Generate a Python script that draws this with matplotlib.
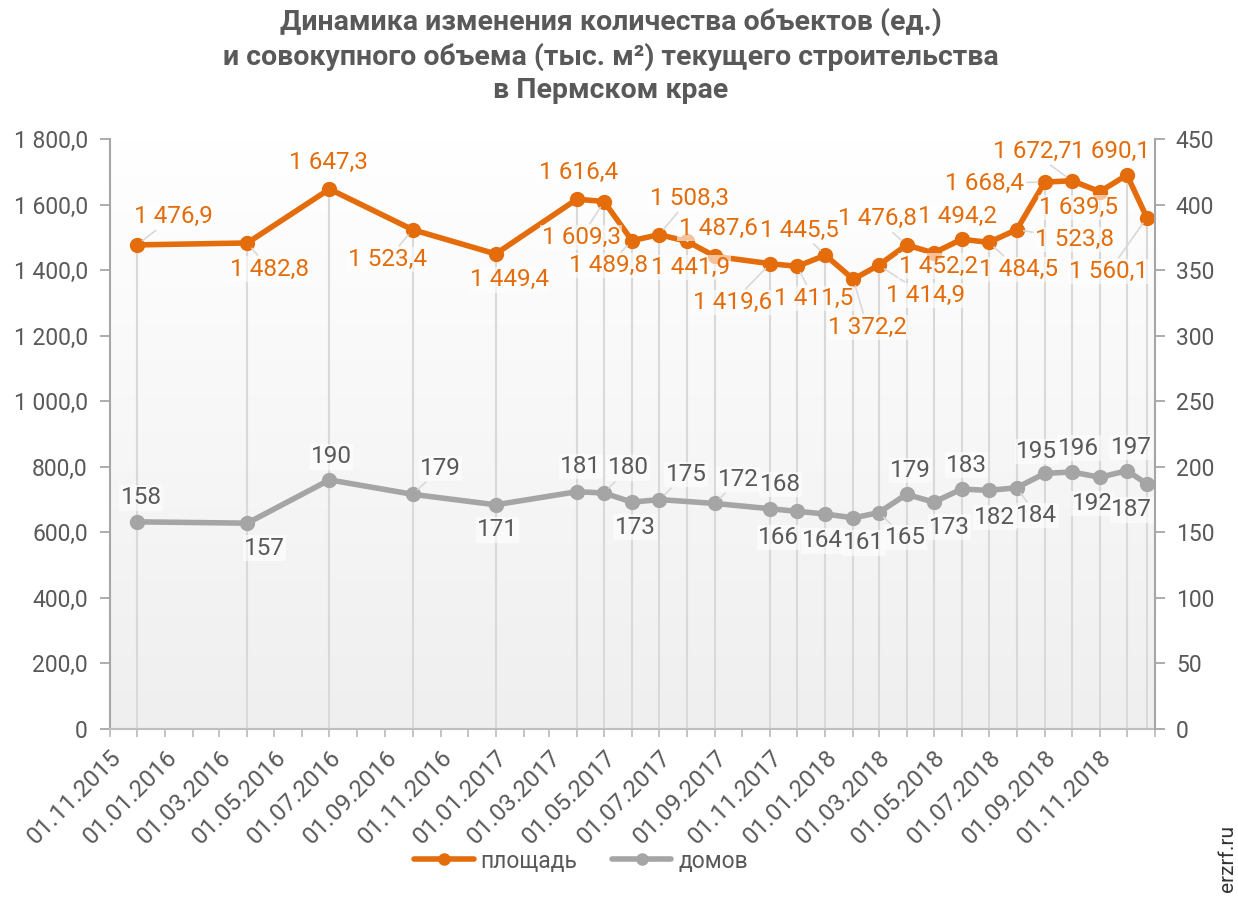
import matplotlib
matplotlib.use('Agg')
import matplotlib.pyplot as plt
import matplotlib.dates as mdates
from matplotlib.colors import LinearSegmentedColormap
from matplotlib.ticker import FuncFormatter, MultipleLocator, FixedLocator
import numpy as np
import pandas as pd

plt.rcParams['font.family'] = ['Roboto', 'DejaVu Sans']

# ---------------- data ----------------
dates = pd.to_datetime([
    '2015-12-01', '2016-04-01', '2016-07-01', '2016-10-01', '2017-01-01',
    '2017-04-01', '2017-05-01', '2017-06-01', '2017-07-01', '2017-08-01',
    '2017-09-01', '2017-11-01', '2017-12-01', '2018-01-01', '2018-02-01',
    '2018-03-01', '2018-04-01', '2018-05-01', '2018-06-01', '2018-07-01',
    '2018-08-01', '2018-09-01', '2018-10-01', '2018-11-01', '2018-12-01',
    '2018-12-23'])
area = [1476.9, 1482.8, 1647.3, 1523.4, 1449.4, 1616.4, 1609.3, 1489.8,
        1508.3, 1487.6, 1441.9, 1419.6, 1411.5, 1445.5, 1372.2, 1414.9,
        1476.8, 1452.2, 1494.2, 1484.5, 1523.8, 1668.4, 1672.7, 1639.5,
        1690.1, 1560.1]
houses = [158, 157, 190, 179, 171, 181, 180, 173, 175, np.nan, 172, 168,
          166, 164, 161, 165, 179, 173, 183, 182, 184, 195, 196, 192, 197, 187]
series_names = ['площадь', 'домов']
title = ('Динамика изменения количества объектов (ед.)\n'
         'и совокупного объема (тыс. м²) текущего строительства\n'
         'в Пермском крае')

# label offsets (pixels, x right / y down) – placement only
area_off = [(36, -28), (22, 26), (-1, -27), (-25, 30), (14, 26), (2, -27),
            (-23, 36), (-24, 25), (30, -36), (31, -13), (-25, 11), (-38, 39),
            (16, 32), (-26, -25), (14, 48), (47, 30), (-29, -26), (5, 13),
            (-4, -23), (30, 27), (58, 10), (-60, 1), (-40, -29), (-21, 16),
            (-16, -24), (-38, 54)]
house_off = [(4, -24), (17, 25), (2, -23), (28, -26), (2, 25), (4, -25),
             (24, -25), (3, 25), (27, -25), None, (23, -24), (10, -24),
             (-19, 26), (-3, 27), (10, 25), (27, 25), (4, -24), (16, 25),
             (5, -24), (6, 27), (20, 28), (-8, -22), (7, -24), (-7, 26),
             (4, -23), (-15, 26)]

ORANGE = '#E46C0A'
GRAY = '#A5A5A5'
TXT = '#595959'
W, H = 1238, 902

fig = plt.figure(figsize=(W / 100, H / 100), dpi=100)
ax = fig.add_axes([110 / W, (H - 729) / H, 1045 / W, 590 / H])
ax2 = ax.twinx()

# gradient background
cmap = LinearSegmentedColormap.from_list('bg', ['#efefef', '#ffffff'])
ax.imshow(np.linspace(0, 1, 256).reshape(-1, 1), cmap=cmap, aspect='auto',
          extent=[0, 1, 0, 1], transform=ax.transAxes, zorder=0,
          origin='lower')

xmin, xmax = pd.Timestamp('2015-11-01'), pd.Timestamp('2019-01-01')
ax.set_xlim(xmin, xmax)
ax.set_ylim(0, 1800)
ax2.set_ylim(0, 450)

ax.vlines(dates, 0, area, colors='#d9d9d9', lw=1.5, zorder=1)

l1, = ax.plot(dates, area, color=ORANGE, lw=4.0, marker='o', ms=10,
              zorder=3, solid_capstyle='round', solid_joinstyle='round')
h = np.array(houses, dtype=float)
m = ~np.isnan(h)
l2, = ax2.plot(dates[m], h[m], color=GRAY, lw=4.0, marker='o', ms=10,
               zorder=3, solid_capstyle='round', solid_joinstyle='round')


def fmt_num(v):
    s = f"{v:,.1f}".replace(',', ' ').replace('.', ',')
    return s


def left_fmt(v, pos):
    return '0' if v == 0 else fmt_num(v)


ax.yaxis.set_major_locator(MultipleLocator(200))
ax.yaxis.set_major_formatter(FuncFormatter(left_fmt))
ax2.yaxis.set_major_locator(MultipleLocator(50))

major = pd.date_range('2015-11-01', '2018-11-01', freq='2MS')
minor = pd.date_range('2015-11-01', '2019-01-01', freq='MS')
ax.xaxis.set_major_locator(FixedLocator(mdates.date2num(major)))
ax.xaxis.set_minor_locator(FixedLocator(mdates.date2num(minor)))
ax.xaxis.set_major_formatter(mdates.DateFormatter('%d.%m.%Y'))
ax.tick_params(axis='x', which='both', length=6, width=1.3, color='#bfbfbf',
               labelsize=17.5, labelcolor=TXT, pad=6)
plt.setp(ax.get_xticklabels(), rotation=45, ha='right',
         rotation_mode='anchor')
ax.tick_params(axis='y', length=7, width=1.3, color='#a6a6a6',
               labelsize=16.5, labelcolor=TXT, pad=9)
ax2.tick_params(axis='y', length=7, width=1.3, color='#a6a6a6',
                labelsize=16.5, labelcolor=TXT, pad=8)

for a in (ax, ax2):
    a.spines['top'].set_visible(False)
ax.spines['right'].set_visible(False)
ax2.spines['left'].set_visible(False)
ax2.spines['bottom'].set_visible(False)
ax.spines['left'].set_color('#a6a6a6')
ax.spines['left'].set_linewidth(1.5)
ax2.spines['right'].set_color('#a6a6a6')
ax2.spines['right'].set_linewidth(1.5)
ax.spines['bottom'].set_color('#bfbfbf')
ax.spines['bottom'].set_linewidth(1.5)

bbox = dict(boxstyle='square,pad=0.05', facecolor='white', alpha=0.6,
            edgecolor='none')


def put_labels(axis, xs, ys, offs, texts, color):
    for x, y, off, t in zip(xs, ys, offs, texts):
        if off is None or (isinstance(y, float) and np.isnan(y)):
            continue
        dx, dy = off
        d = (dx * dx + dy * dy) ** 0.5
        arrow = None
        if d > 33:
            arrow = dict(arrowstyle='-', color='#d9d9d9', lw=1.2,
                         shrinkA=1, shrinkB=5)
        axis.annotate(t, (x, y), xytext=(dx, -dy), textcoords='offset pixels',
                      ha='center', va='center', fontsize=17.5, color=color,
                      bbox=bbox, arrowprops=arrow, zorder=5)


put_labels(ax, dates, area, area_off, [fmt_num(v) for v in area], ORANGE)
put_labels(ax2, dates, houses, house_off,
           ['' if np.isnan(v) else str(int(v)) for v in h], TXT)

fig.text(611 / W, 1 - 56 / H, title, ha='center', va='center', fontsize=20.5,
         fontweight='bold', color=TXT, linespacing=1.3)

fig.legend([l1, l2], series_names, loc='center',
           bbox_to_anchor=(581 / W, 1 - 861 / H), ncol=2, frameon=False,
           fontsize=16.5, labelcolor=TXT, handlelength=2.6, columnspacing=1.5,
           handletextpad=0.3, markerscale=0.8)

fig.text(1228 / W, 1 - 858 / H, 'erzrf.ru', rotation=90, ha='center',
         va='center', fontsize=15, color='#333333')

fig.savefig('out.png', dpi=100)
